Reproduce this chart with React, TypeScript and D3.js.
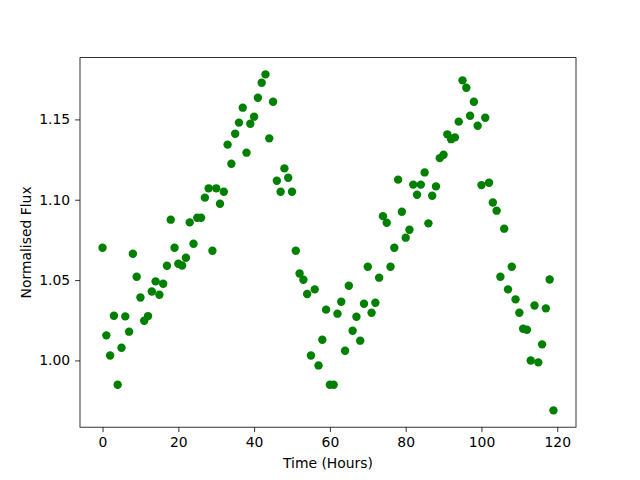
import React, { useEffect, useRef } from "react";
import * as d3 from "d3";

// hours since start (0..119), one reading per hour
const hours: number[] = d3.range(0, 120);

const flux: number[] = [
  1.0701, 1.0156, 1.0031, 1.0278, 0.9849, 1.0079, 1.0274, 1.0179, 1.0664, 1.0521,
  1.0392, 1.0247, 1.0276, 1.0429, 1.0492, 1.0409, 1.0477, 1.0589, 1.0876, 1.0701,
  1.0602, 1.0591, 1.0639, 1.0859, 1.0726, 1.0888, 1.0888, 1.1013, 1.1071, 1.0683,
  1.1071, 1.0975, 1.105, 1.1343, 1.1224, 1.1411, 1.148, 1.1573, 1.1293, 1.1473,
  1.1517, 1.1635, 1.1728, 1.178, 1.1382, 1.161, 1.1118, 1.105, 1.1195, 1.1137,
  1.105, 1.0683, 1.0541, 1.0502, 1.0413, 1.0031, 1.0442, 0.9969, 1.0129, 1.0316,
  0.9849, 0.9849, 1.0291, 1.0365, 1.006, 1.0465, 1.0185, 1.0272, 1.0123, 1.0353,
  1.0583, 1.0297, 1.0359, 1.0515, 1.0898, 1.0857, 1.0583, 1.0701, 1.1125, 1.0925,
  1.0764, 1.0813, 1.1094, 1.1031, 1.1094, 1.117, 1.0853, 1.1025, 1.1083, 1.1259,
  1.128, 1.1407, 1.1377, 1.1388, 1.1486, 1.1743, 1.1697, 1.1523, 1.161, 1.146,
  1.1091, 1.151, 1.1106, 1.0983, 1.0932, 1.0521, 1.082, 1.0442, 1.0583, 1.038,
  1.0297, 1.0197, 1.0191, 1.0, 1.0342, 0.9988, 1.01, 1.0324, 1.0504, 0.9689,
];

const xTicks: number[] = [0, 20, 40, 60, 80, 100, 120];
const yTicks: number[] = [1.0, 1.05, 1.1, 1.15];

export default function App() {
  const ref = useRef<SVGSVGElement>(null);

  useEffect(() => {
    const width = 640;
    const height = 480;
    const margin = { top: 57.6, right: 64, bottom: 52.8, left: 80 };
    const font = "DejaVu Sans, sans-serif";

    const svg = d3.select(ref.current);
    svg.selectAll("*").remove();

    // matplotlib style 5% margins
    const xMin = d3.min(hours)!;
    const xMax = d3.max(hours)!;
    const xPad = (xMax - xMin) * 0.05;
    const yMin = d3.min(flux)!;
    const yMax = d3.max(flux)!;
    const yPad = (yMax - yMin) * 0.05;

    const xScale = d3
      .scaleLinear()
      .domain([xMin - xPad, xMax + xPad])
      .range([margin.left, width - margin.right]);
    const yScale = d3
      .scaleLinear()
      .domain([yMin - yPad, yMax + yPad])
      .range([height - margin.bottom, margin.top]);

    svg.append("rect").attr("width", width).attr("height", height).attr("fill", "white");

    // points
    svg
      .append("g")
      .selectAll("circle")
      .data(hours)
      .join("circle")
      .attr("cx", (d) => xScale(d))
      .attr("cy", (d, i) => yScale(flux[i]))
      .attr("r", 4.2)
      .attr("fill", "#008000");

    // axes
    const xAxis = svg
      .append("g")
      .attr("transform", `translate(0,${height - margin.bottom})`)
      .call(d3.axisBottom(xScale).tickValues(xTicks).tickFormat(d3.format("d")).tickSize(4.9).tickPadding(4.9).tickSizeOuter(0));
    const yAxis = svg
      .append("g")
      .attr("transform", `translate(${margin.left},0)`)
      .call(d3.axisLeft(yScale).tickValues(yTicks).tickFormat(d3.format(".2f")).tickSize(4.9).tickPadding(4.9).tickSizeOuter(0));

    [xAxis, yAxis].forEach((ax) => {
      ax.select(".domain").remove();
      ax.selectAll("line").attr("stroke", "black").attr("stroke-width", 0.8);
      ax.selectAll("text")
        .attr("fill", "black")
        .style("font-family", font)
        .style("font-size", "13.9px");
    });

    // frame
    svg
      .append("rect")
      .attr("x", margin.left)
      .attr("y", margin.top)
      .attr("width", width - margin.left - margin.right)
      .attr("height", height - margin.top - margin.bottom)
      .attr("fill", "none")
      .attr("stroke", "black")
      .attr("stroke-width", 0.8);

    // labels
    svg
      .append("text")
      .attr("x", (margin.left + width - margin.right) / 2)
      .attr("y", 468)
      .attr("text-anchor", "middle")
      .style("font-family", font)
      .style("font-size", "13.9px")
      .text("Time (Hours)");
    svg
      .append("text")
      .attr("transform", `translate(31,${(margin.top + height - margin.bottom) / 2}) rotate(-90)`)
      .attr("text-anchor", "middle")
      .style("font-family", font)
      .style("font-size", "13.9px")
      .text("Normalised Flux");
  }, []);

  return (
    <svg
      ref={ref}
      width={640}
      height={480}
      style={{ position: "absolute", left: 0, top: 0, display: "block" }}
    />
  );
}
